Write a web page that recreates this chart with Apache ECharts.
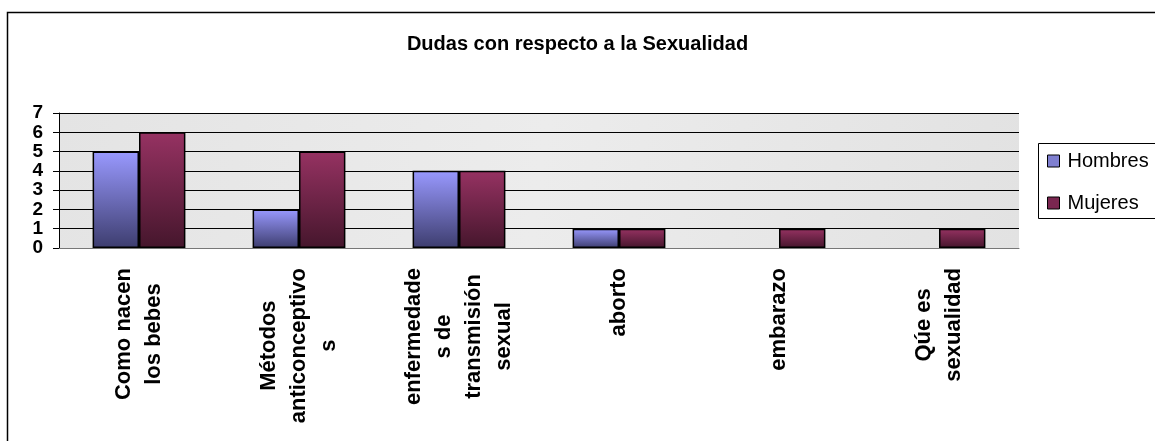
<!DOCTYPE html>
<html>
<head>
<meta charset="utf-8">
<script src="https://cdn.jsdelivr.net/npm/echarts@6/dist/echarts.min.js"></script>
<style>
  html, body { margin: 0; padding: 0; background: #fff; }
  #chart { width: 1155px; height: 441px; }
</style>
</head>
<body>
<div id="chart"></div>
<script>
const categories = [
  'Como nacen\nlos bebes',
  'Métodos\nanticonceptivo\ns',
  'enfermedade\ns de\ntransmisión\nsexual',
  'aborto',
  'embarazo',
  'Qúe es\nsexualidad'
];
const hombres = [5, 2, 4, 1, 0, 0];
const mujeres = [6, 5, 4, 1, 1, 1];
const yTicks = [0, 1, 2, 3, 4, 5, 6, 7];

const font = 'Liberation Sans, Arial, sans-serif';

const grad = (top, bottom) => new echarts.graphic.LinearGradient(0, 0, 0, 1, [
  { offset: 0, color: top },
  { offset: 1, color: bottom }
]);
// empty categories get no bar at all
const noZero = arr => arr.map(v => (v === 0 ? '-' : v));

const chart = echarts.init(document.getElementById('chart'));
const option = {
  backgroundColor: '#fff',
  animation: false,
  title: {
    text: 'Dudas con respecto a la Sexualidad',
    left: 'center',
    top: 29,
    textStyle: { fontFamily: font, fontSize: 20, fontWeight: 'bold', color: '#000' }
  },
  legend: {
    orient: 'vertical',
    left: 1047,
    top: 151,
    padding: 0,
    itemWidth: 12,
    itemHeight: 12,
    itemGap: 22,
    icon: 'rect',
    textStyle: { fontFamily: font, fontSize: 20, color: '#000', padding: [0, 0, 0, 3] },
    data: [
      { name: 'Hombres', itemStyle: { color: '#7f7fd0', borderColor: '#000', borderWidth: 1 } },
      { name: 'Mujeres', itemStyle: { color: '#7a2650', borderColor: '#000', borderWidth: 1 } }
    ]
  },
  grid: {
    left: 59,
    right: 136,
    top: 113,
    bottom: 193,
    show: true,
    backgroundColor: new echarts.graphic.LinearGradient(0, 0, 1, 1, [
      { offset: 0, color: '#e4e4e4' },
      { offset: 0.5, color: '#ececec' },
      { offset: 1, color: '#e2e2e2' }
    ]),
    borderWidth: 0
  },
  xAxis: {
    type: 'category',
    data: categories,
    axisLine: { lineStyle: { color: '#777', width: 1 } },
    axisTick: { length: 5, lineStyle: { color: '#333' } },
    axisLabel: {
      interval: 0,
      rotate: 90,
      margin: 20,
      formatter: v => v.split('\n').map(l => '{c|' + l + '}').join('\n'),
      rich: {
        c: { align: 'center', fontFamily: font, fontSize: 22, fontWeight: 'bold', lineHeight: 30, color: '#000' }
      }
    }
  },
  yAxis: {
    type: 'value',
    min: yTicks[0],
    max: yTicks[yTicks.length - 1],
    interval: 1,
    axisLine: { show: true, lineStyle: { color: '#000' } },
    axisTick: { show: true, length: 6, lineStyle: { color: '#000' } },
    axisLabel: {
      margin: 16,
      showMinLabel: true,
      showMaxLabel: true,
      hideOverlap: false,
      fontFamily: font,
      fontSize: 19,
      fontWeight: 'bold',
      lineHeight: 19,
      color: '#000'
    },
    splitLine: { lineStyle: { color: '#000', width: 1 } }
  },
  series: [
    {
      name: 'Hombres',
      type: 'bar',
      data: noZero(hombres),
      barGap: '0%',
      barCategoryGap: '42%',
      itemStyle: { color: grad('#9999ff', '#3d3d6e'), borderColor: '#000', borderWidth: 1.5 }
    },
    {
      name: 'Mujeres',
      type: 'bar',
      data: noZero(mujeres),
      barGap: '0%',
      barCategoryGap: '42%',
      itemStyle: { color: grad('#963262', '#45162c'), borderColor: '#000', borderWidth: 1.5 }
    }
  ],
  graphic: [
    {
      type: 'rect',
      shape: { x: 7.5, y: 12.5, width: 1200, height: 500 },
      style: { fill: 'none', stroke: '#000', lineWidth: 1.5 },
      silent: true
    },
    {
      type: 'rect',
      shape: { x: 1038.5, y: 143.5, width: 200, height: 75 },
      style: { fill: 'none', stroke: '#000', lineWidth: 1 },
      silent: true
    }
  ]
};
chart.setOption(option);
</script>
</body>
</html>
